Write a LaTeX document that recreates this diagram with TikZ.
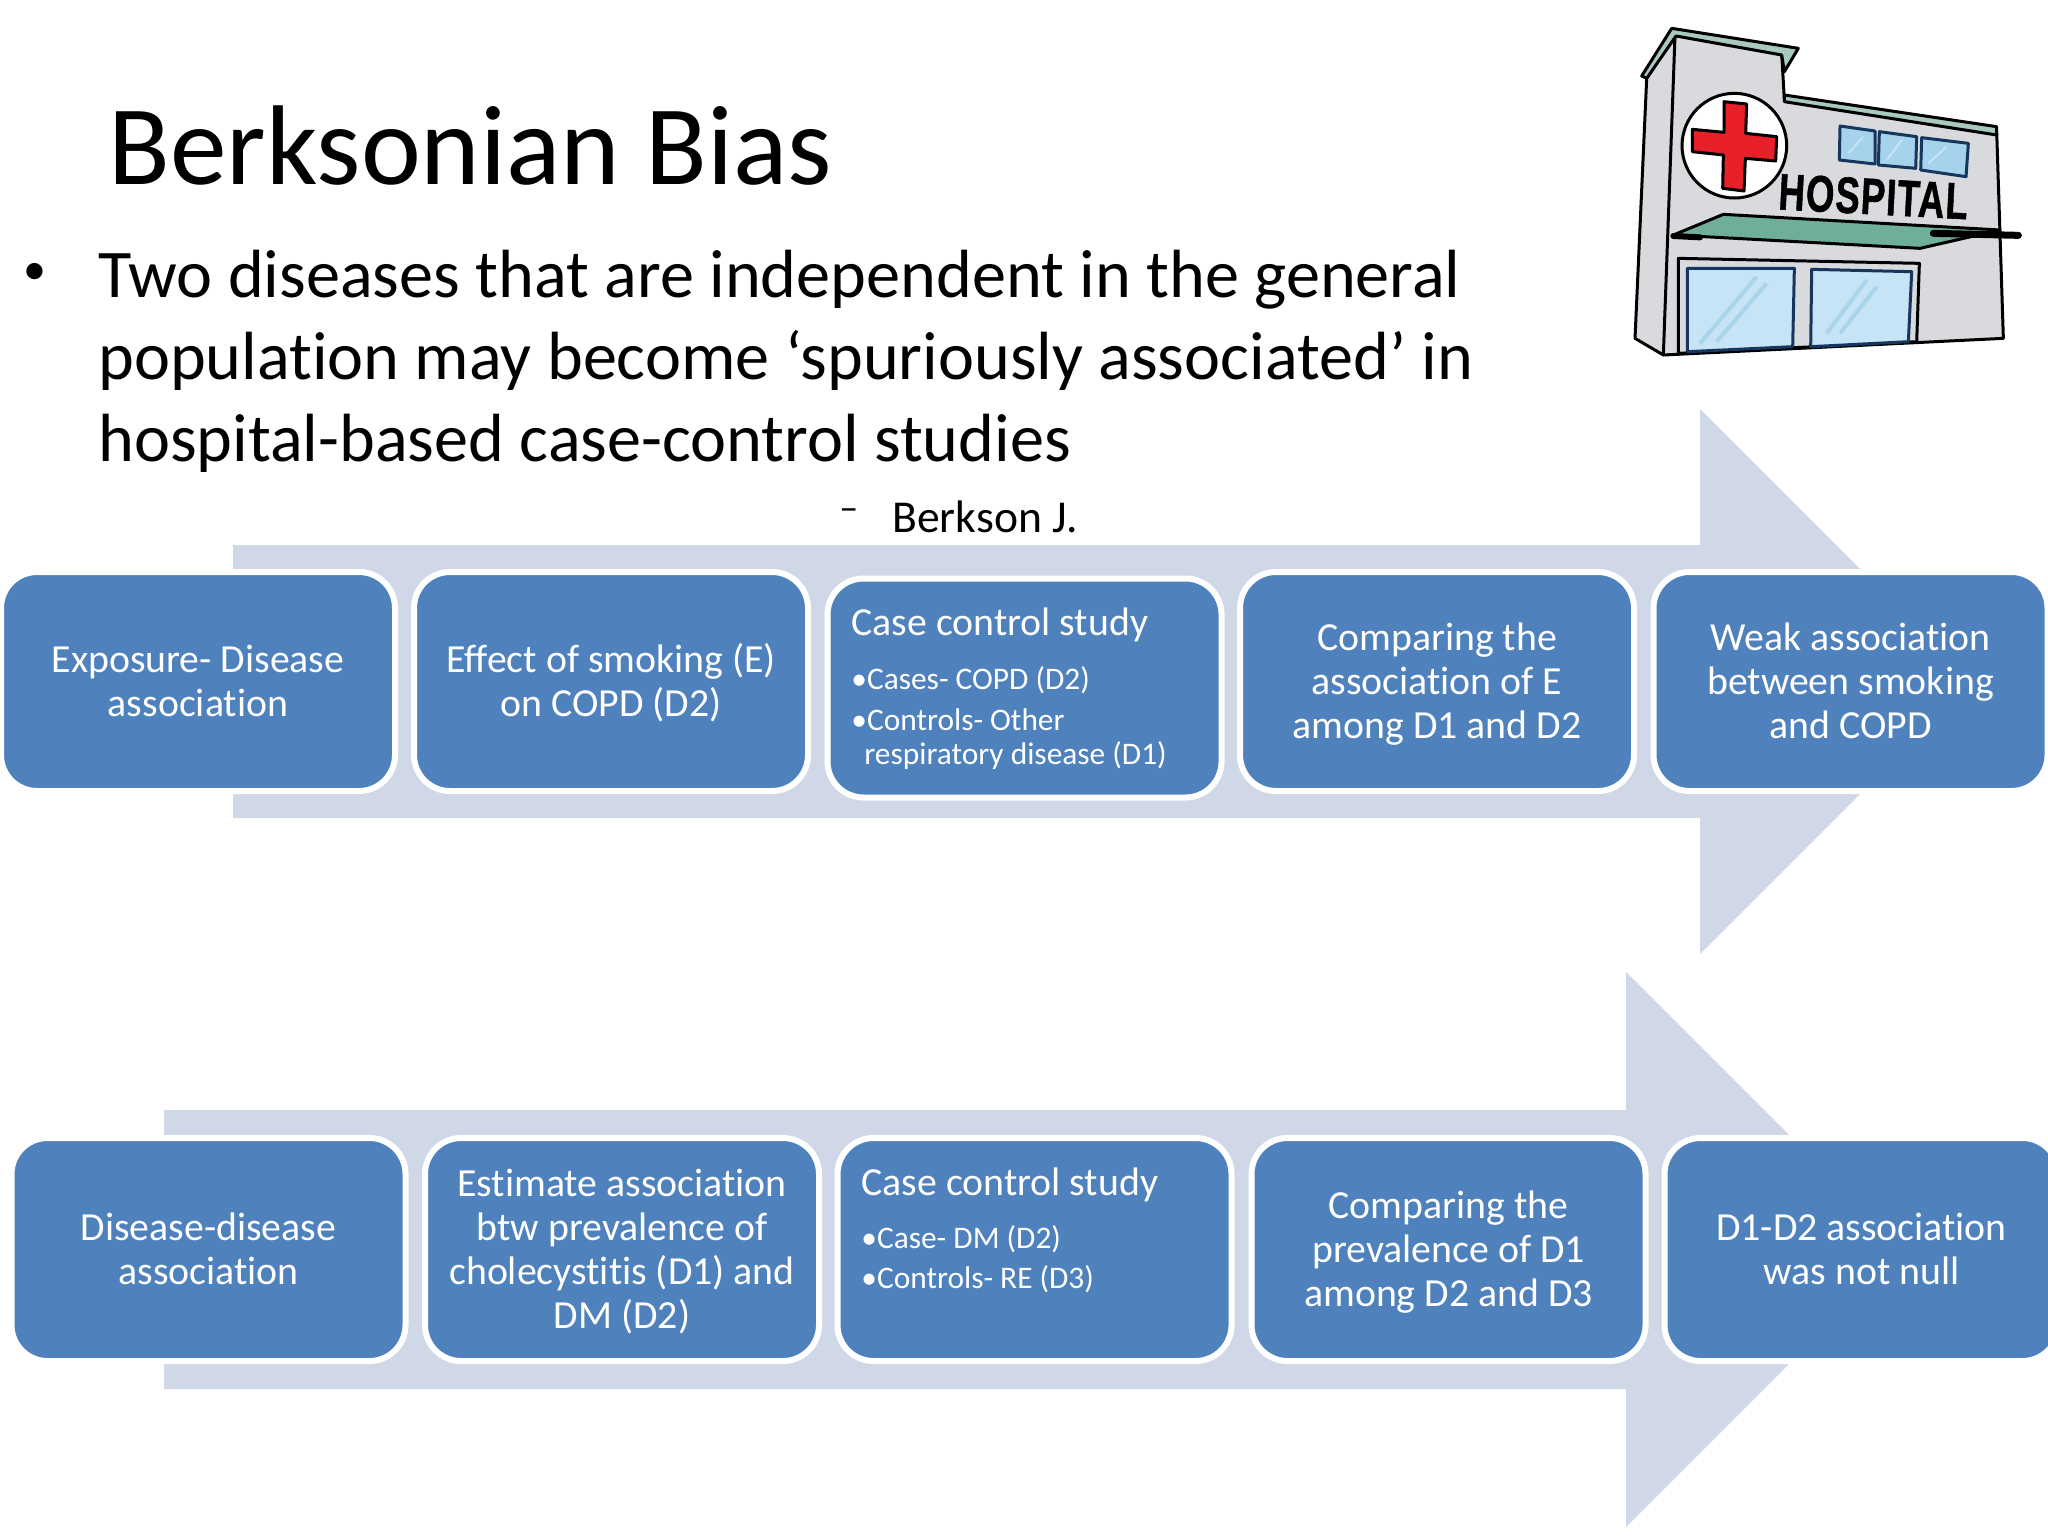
\documentclass[tikz,border=0pt]{standalone}
\usepackage{fontspec}
\setmainfont[Ligatures=NoCommon]{Carlito}
\newfontfamily\hospfont[BoldFeatures={FakeBold=1.2},LetterSpace=3]{Liberation Sans}
\definecolor{boxblue}{HTML}{4F81BD}
\definecolor{arrowtint}{HTML}{D0D8E8}
\definecolor{wallgrey}{HTML}{D8DADD}
\definecolor{roofteal}{HTML}{A9C8BF}
\definecolor{awnteal}{HTML}{6FAE99}
\definecolor{glass}{HTML}{C6E4F5}
\definecolor{glasstop}{HTML}{A6D3EC}
\definecolor{glasshi}{HTML}{A9D4EC}
\definecolor{frameblue}{HTML}{17365D}
\definecolor{crossred}{HTML}{E8202A}
\newcommand{\lnstrut}{\rule[-4.75pt]{0pt}{22pt}}
\tikzset{
  stagebox/.style={draw=white,line width=3pt,fill=boxblue,rounded corners=18pt,text=white,
    minimum width=197pt,minimum height=109.5pt,align=center,inner sep=0pt,
    font=\fontsize{19.9}{22}\selectfont},
  stageboxtall/.style={stagebox,minimum height=111.5pt},
  boxhead/.style={anchor=base west,text=white,inner sep=0pt,font=\fontsize{19.9}{22}\selectfont},
  boxitem/.style={anchor=base west,text=white,inner sep=0pt,font=\fontsize{15.7}{19}\selectfont},
  bodyline/.style={anchor=base west,inner sep=0pt,font=\fontsize{34.1}{41}\selectfont},
  bigarrow/.style={fill=arrowtint,draw=none},
  outline/.style={draw=black,line width=1.5pt,line join=round},
  pane/.style={draw=frameblue,line width=1.5pt,line join=round},
}
\begin{document}
\begin{tikzpicture}[x=0.5pt,y=-0.5pt]
\useasboundingbox (0,0) rectangle (2048,1536);
\clip (0,0) rectangle (2048,1536);
\fill[white] (0,0) rectangle (2048,1536);

% title and body
\node[anchor=base west,inner sep=0pt,font=\fontsize{56.7}{66}\selectfont] (title) at (108,184) {Berksonian Bias};
\node[anchor=base west,inner sep=0pt,font=\fontsize{23}{24}\selectfont] (bullet) at (23,284) {•};
\node[bodyline] (l1) at (98,297) {Two diseases that are independent in the general};
\node[bodyline] (l2) at (98,379) {population may become ‘spuriously associated’ in};
\node[bodyline] (l3) at (98,461) {hospital-based case-control studies};
\node[anchor=base west,inner sep=0pt,font=\fontsize{19}{24}\selectfont] (dash) at (839,520) {–};
\node[anchor=base west,inner sep=0pt,font=\fontsize{22.8}{27}\selectfont] (cite) at (892,532) {Berkson J.};

% big arrows
\path[bigarrow] (233,545) -- (1700,545) -- (1700,409) -- (1972.5,681.5) -- (1700,954) -- (1700,818) -- (233,818) -- cycle;
\path[bigarrow] (164,1110) -- (1626,1110) -- (1626,972) -- (1903.5,1249.5) -- (1626,1527) -- (1626,1389) -- (164,1389) -- cycle;

% top row
\node[stagebox] (a1) at (198,681.5) {\lnstrut Exposure- Disease\\\lnstrut association};
\node[stagebox] (a2) at (611,681.5) {\lnstrut Effect of smoking (E)\\\lnstrut on COPD (D2)};
\node[stagebox] (a3) at (1024.5,688) {};
\node[stagebox] (a4) at (1437,681.5) {\lnstrut Comparing the\\\lnstrut association of E\\\lnstrut among D1 and D2};
\node[stagebox] (a5) at (1850.5,681.5) {\lnstrut Weak association\\\lnstrut between smoking\\\lnstrut and COPD};
\node[boxhead] (a3h) at (851,635) {Case control study};
\node[boxitem] (a3i) at (851,689) {•Cases- COPD (D2)};
\node[boxitem] (a3j) at (851,730) {•Controls- Other};
\node[boxitem] (a3k) at (864,764) {respiratory disease (D1)};

% bottom row
\node[stageboxtall] (b1) at (208.5,1249.5) {\lnstrut Disease-disease\\\lnstrut association};
\node[stageboxtall] (b2) at (622,1249.5) {\lnstrut Estimate association\\\lnstrut btw prevalence of\\\lnstrut cholecystitis (D1) and\\\lnstrut DM (D2)};
\node[stageboxtall] (b3) at (1034.5,1249.5) {};
\node[stageboxtall] (b4) at (1448.5,1249.5) {\lnstrut Comparing the\\\lnstrut prevalence of D1\\\lnstrut among D2 and D3};
\node[stageboxtall] (b5) at (1861.5,1249.5) {\lnstrut D1-D2 association\\\lnstrut was not null};
\node[boxhead] (b3h) at (861,1195) {Case control study};
\node[boxitem] (b3i) at (861,1248) {•Case- DM (D2)};
\node[boxitem] (b3j) at (861,1288) {•Controls- RE (D3)};

% hospital picture (coordinates of a 3x crop whose corner is at 1600,0)
\begin{scope}[shift={(1600,0)},x=0.16667pt,y=-0.16667pt]
  \path[outline,fill=wallgrey] (140,235) -- (105,1015) -- (190,1065) -- (1210,1015) -- (1190,395) -- (553,300) -- (545,160) -- (225,105) -- cycle;
  \draw[outline] (225,105) -- (190,1065);
  \path[outline,fill=roofteal] (125,228) -- (215,85) -- (595,145) -- (553,215) -- (545,165) -- (228,108) -- (140,235) -- cycle;
  \path[outline,fill=roofteal] (553,285) -- (1190,380) -- (1190,405) -- (553,305) -- cycle;
  \path[outline,fill=white] (403,437) circle[radius=157];
  \path[outline,fill=crossred] (372,305) -- (440,312) -- (437,400) -- (530,410) -- (527,483) -- (436,475) -- (432,573) -- (368,565) -- (370,465) -- (277,455) -- (277,388) -- (372,397) -- cycle;
  \path[pane,fill=glasstop] (720,378) -- (825,393) -- (825,492) -- (718,480) -- cycle;
  \path[pane,fill=glasstop] (838,395) -- (950,410) -- (947,505) -- (835,495) -- cycle;
  \path[pane,fill=glasstop] (965,413) -- (1105,430) -- (1098,530) -- (962,510) -- cycle;
  \node[font=\hospfont\bfseries\fontsize{19}{19}\selectfont,rotate=-3,inner sep=0pt,xscale=0.96,yscale=1.35] (hosp) at (820,590) {HOSPITAL};
  \path[outline,fill=awnteal] (220,705) -- (370,643) -- (1200,690) -- (960,745) -- cycle;
  \draw[line width=3.5pt,line cap=round,black] (1000,700) -- (1255,706);
  \draw[line width=3pt,line cap=round,black] (220,708) -- (300,712);
  \path[outline,fill=wallgrey] (235,775) -- (958,790) -- (950,1025) -- (235,1060) -- cycle;
  \path[pane,fill=glass] (262,805) -- (583,805) -- (578,1040) -- (262,1055) -- cycle;
  \path[pane,fill=glass] (635,808) -- (935,815) -- (925,1025) -- (632,1040) -- cycle;
  \draw[glasshi,line width=2pt] (300,1030) -- (470,830) (350,1025) -- (500,850) (680,1000) -- (800,840) (720,1000) -- (830,860);
  \draw[glass,line width=1pt] (745,460) -- (790,410) (860,480) -- (905,420) (985,490) -- (1040,440);
\end{scope}
\end{tikzpicture}
\end{document}
